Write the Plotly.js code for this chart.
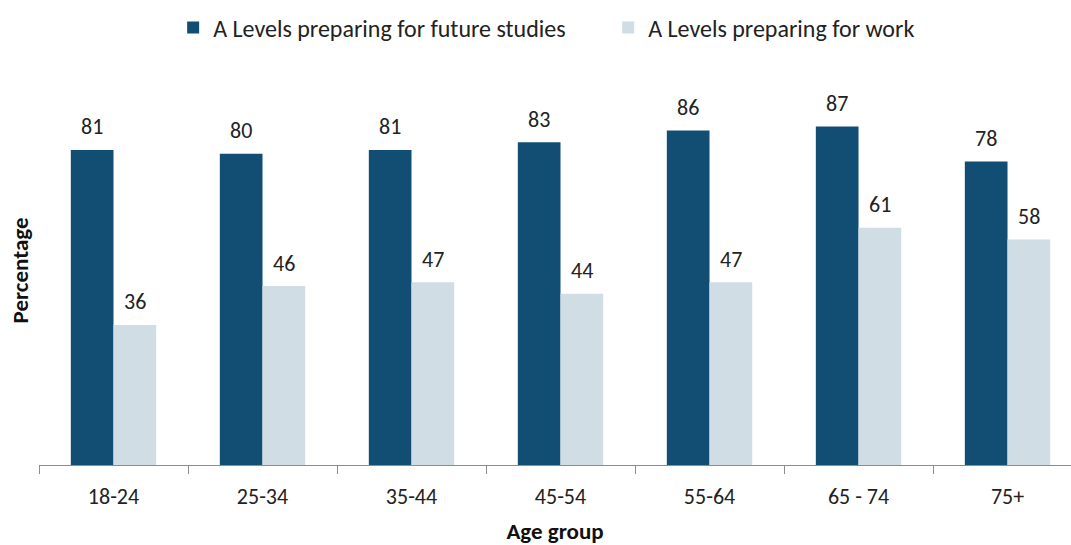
<!DOCTYPE html>
<html>
<head>
<meta charset="utf-8">
<script src="https://cdn.plot.ly/plotly-3.0.1.min.js"></script>
<style>html,body{margin:0;padding:0;background:#fff;}#chart{width:1071px;height:545px;}</style>
</head>
<body>
<div id="chart"></div>
<script>
const categories = ["18-24", "25-34", "35-44", "45-54", "55-64", "65 - 74", "75+"];
const futureStudies = [81, 80, 81, 83, 86, 87, 78];
const work = [36, 46, 47, 44, 47, 61, 58];
const seriesNames = ["A Levels preparing for future studies", "A Levels preparing for work"];
const colors = ["#124E73", "#D0DDE5"];

const FONT = "Carlito, Calibri, Lato, sans-serif";

const traces = [
  {type: "bar", name: seriesNames[0], x: categories, y: futureStudies,
   marker: {color: colors[0]}, hoverinfo: "skip"},
  {type: "bar", name: seriesNames[1], x: categories, y: work,
   marker: {color: colors[1]}, hoverinfo: "skip"}
];

const annotations = [];
[futureStudies, work].forEach((vals, si) => {
  vals.forEach((v, i) => {
    annotations.push({
      x: categories[i], y: v, xref: "x", yref: "y",
      text: String(v), showarrow: false,
      xshift: si === 0 ? -21.3 : 21.3, yshift: 23,
      font: {family: FONT, size: 22, color: "#222"}
    });
  });
});

const layout = {
  width: 1071, height: 545,
  margin: {l: 39, r: 0, t: 76, b: 80},
  paper_bgcolor: "#fff", plot_bgcolor: "#fff",
  barmode: "group", bargap: 0.427, bargroupgap: 0,
  font: {family: FONT, size: 20, color: "#222"},
  showlegend: true,
  legend: {orientation: "h", x: 0.13, xanchor: "left", y: 0.99, yref: "container", yanchor: "top",
           font: {family: FONT, size: 24, color: "#222"}, itemwidth: 30, traceorder: "normal",
           entrywidth: 390},
  xaxis: {
    type: "category", range: [-0.5, 6.426], fixedrange: true,
    showline: true, linecolor: "#8c8c8c", linewidth: 1,
    ticks: "outside", tickson: "boundaries", ticklen: 8, tickcolor: "#8c8c8c",
    ticklabelstandoff: 12,
    tickfont: {family: FONT, size: 22, color: "#222"},
    showgrid: false, zeroline: false,
    title: {text: "<b>Age group</b>", font: {family: FONT, size: 23, color: "#111"}, standoff: 18}
  },
  yaxis: {
    range: [0, 100], showticklabels: false, showgrid: false, zeroline: false, showline: false, ticks: "",
    title: {text: "<b>Percentage</b>", font: {family: FONT, size: 23, color: "#111"}, standoff: 2}
  },
  annotations: annotations
};

Plotly.newPlot("chart", traces, layout, {displayModeBar: false, staticPlot: true});
</script>
</body>
</html>
